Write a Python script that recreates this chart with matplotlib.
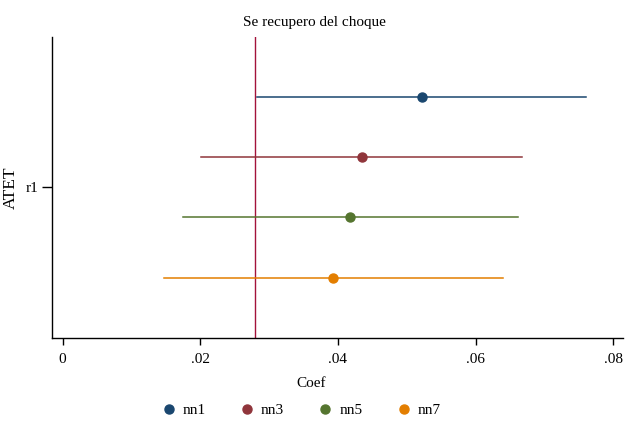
import matplotlib.pyplot as plt
import numpy as np

# estimates (ATET, r1)
models = ['nn1', 'nn3', 'nn5', 'nn7']
coef = [0.0522, 0.0435, 0.0417, 0.0393]
ci_lo = [0.0282, 0.0201, 0.0175, 0.0147]
ci_hi = [0.0761, 0.0668, 0.0661, 0.0639]
offsets = [0.3, 0.1, -0.1, -0.3]
colors = ['#1a476f', '#90353b', '#55752f', '#e37e00']
ref_x = 0.0280
xticks = [0, 0.02, 0.04, 0.06, 0.08]
xtick_labels = ['0', '.02', '.04', '.06', '.08']

plt.rcParams['font.family'] = ['Liberation Serif', 'DejaVu Serif']
plt.rcParams['font.size'] = 11

fig = plt.figure(figsize=(6.28, 4.26), dpi=100)
ax = fig.add_axes([0.0833, 0.2073, 0.9087, 0.7058])

ax.axvline(ref_x, color='#a3123a', lw=1.0, zorder=1)

for i, m in enumerate(models):
    y = 1 + offsets[i]
    ax.plot([ci_lo[i], ci_hi[i]], [y, y], color=colors[i], lw=1.1, zorder=2)
    ax.plot(coef[i], y, 'o', color=colors[i], ms=6.5, zorder=3, label=m)

ax.set_xlim(-0.0015, 0.0814)
ax.set_ylim(0.5, 1.5)
ax.set_xticks(xticks)
ax.set_xticklabels(xtick_labels)
ax.set_yticks([1])
ax.set_yticklabels(['r1'])
ax.tick_params(axis='x', length=5, width=1, pad=6)
ax.tick_params(axis='y', length=7, width=1, pad=3)

for s in ['top', 'right']:
    ax.spines[s].set_visible(False)
for s in ['left', 'bottom']:
    ax.spines[s].set_linewidth(1.0)

ax.set_ylabel('ATET', fontsize=12.5)
ax.yaxis.set_label_coords(-0.058, 0.5)
fig.text(0.5, 0.948, 'Se recupero del choque', ha='center', va='center')
fig.text(0.495, 0.1, 'Coef', ha='center', va='center')

fig.legend(loc='center', bbox_to_anchor=(0.478, 0.037), ncol=4, frameon=False,
           handletextpad=0.3, columnspacing=2.1, handlelength=1.2)

fig.savefig('out.png', dpi=100)
